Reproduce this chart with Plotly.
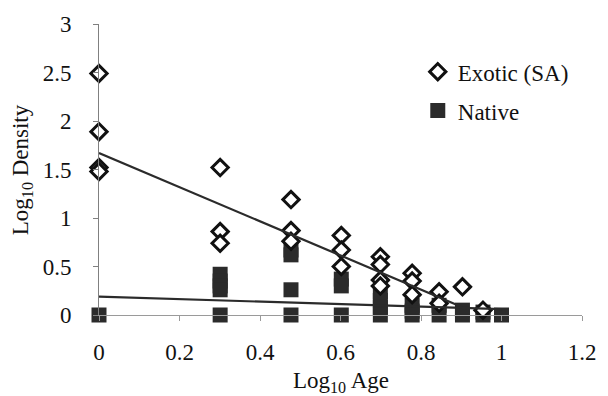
import plotly.graph_objects as go

# Log10 age / log10 density observations for each stand
exotic_x = [0, 0, 0, 0,
            0.301, 0.301, 0.301,
            0.477, 0.477, 0.477,
            0.602, 0.602, 0.602,
            0.699, 0.699, 0.699, 0.699,
            0.778, 0.778, 0.778,
            0.845, 0.845,
            0.903,
            0.954]
exotic_y = [2.49, 1.89, 1.52, 1.48,
            1.52, 0.86, 0.74,
            1.19, 0.87, 0.76,
            0.82, 0.67, 0.50,
            0.60, 0.52, 0.36, 0.30,
            0.43, 0.35, 0.21,
            0.24, 0.12,
            0.29,
            0.05]

native_x = [0,
            0.301, 0.301, 0.301, 0.301, 0.301,
            0.477, 0.477, 0.477, 0.477,
            0.602, 0.602, 0.602,
            0.699, 0.699, 0.699, 0.699,
            0.778, 0.778, 0.778,
            0.845, 0.845,
            0.903, 0.903,
            0.954, 0.954,
            1.0]
native_y = [0,
            0.42, 0.35, 0.30, 0.26, 0,
            0.67, 0.62, 0.26, 0,
            0.37, 0.30, 0,
            0.24, 0.15, 0.08, 0,
            0.10, 0.04, 0,
            0.10, 0,
            0.05, 0,
            0.03, 0,
            0]

# Linear trend lines: intercept, slope, x extent
exotic_fit = {"intercept": 1.67, "slope": -1.76, "x": [0, 0.903]}
native_fit = {"intercept": 0.19, "slope": -0.13, "x": [0, 1.0]}

series_names = ["Exotic (SA)", "Native"]

FONT = "Times New Roman, Liberation Serif, DejaVu Serif, serif"
DARK = "#2b2b2b"


def fit_line(fit):
    return [fit["intercept"] + fit["slope"] * x for x in fit["x"]]


fig = go.Figure()

fig.add_trace(go.Scatter(
    x=native_x, y=native_y, mode="markers", name=series_names[1],
    legendrank=2, legendgroup="n",
    marker=dict(symbol="square", size=15, color=DARK, line=dict(width=0)),
    cliponaxis=False,
))
fig.add_trace(go.Scatter(
    x=exotic_x, y=exotic_y, mode="markers", name=series_names[0],
    legendrank=1, legendgroup="e",
    marker=dict(symbol="diamond", size=12.5, color="white",
                line=dict(width=3, color="#111111")),
    cliponaxis=False,
))
fig.add_trace(go.Scatter(
    x=exotic_fit["x"], y=fit_line(exotic_fit), mode="lines",
    line=dict(color=DARK, width=2.2), showlegend=False, hoverinfo="skip",
    cliponaxis=False,
))
fig.add_trace(go.Scatter(
    x=native_fit["x"], y=fit_line(native_fit), mode="lines",
    line=dict(color=DARK, width=2.2), showlegend=False, hoverinfo="skip",
    cliponaxis=False,
))

fig.update_layout(
    width=608, height=396,
    margin=dict(l=99, r=17, t=23, b=81),
    paper_bgcolor="white", plot_bgcolor="white",
    font=dict(family=FONT, size=23, color="#111111"),
    legend=dict(
        x=0.66, y=0.91, xanchor="left", yanchor="top",
        bgcolor="rgba(0,0,0,0)", tracegroupgap=6,
        itemwidth=30, font=dict(family=FONT, size=23),
    ),
    annotations=[
        dict(text="Log<sub>10</sub> Age", xref="paper", yref="paper",
             x=0.5, y=-0.23, xanchor="center", yanchor="middle",
             showarrow=False, font=dict(family=FONT, size=23)),
        dict(text="Log<sub>10</sub> Density", xref="paper", yref="paper",
             x=-0.16, y=0.5, xanchor="center", yanchor="middle",
             textangle=-90, showarrow=False, font=dict(family=FONT, size=23)),
    ],
)

fig.update_xaxes(
    range=[0, 1.2], dtick=0.2, tick0=0,
    showgrid=False, zeroline=False,
    showline=True, linecolor="#9a9a9a", linewidth=1,
    ticks="outside", ticklen=5, tickcolor="#9a9a9a",
    ticklabelstandoff=11,
    tickfont=dict(family=FONT, size=23),
)
fig.update_yaxes(
    range=[0, 3], dtick=0.5, tick0=0,
    showgrid=False, zeroline=False,
    showline=True, linecolor="#808080", linewidth=1,
    ticks="outside", ticklen=5, tickcolor="#808080",
    ticklabelstandoff=17,
    tickfont=dict(family=FONT, size=23),
)

fig.write_html("out.html")
